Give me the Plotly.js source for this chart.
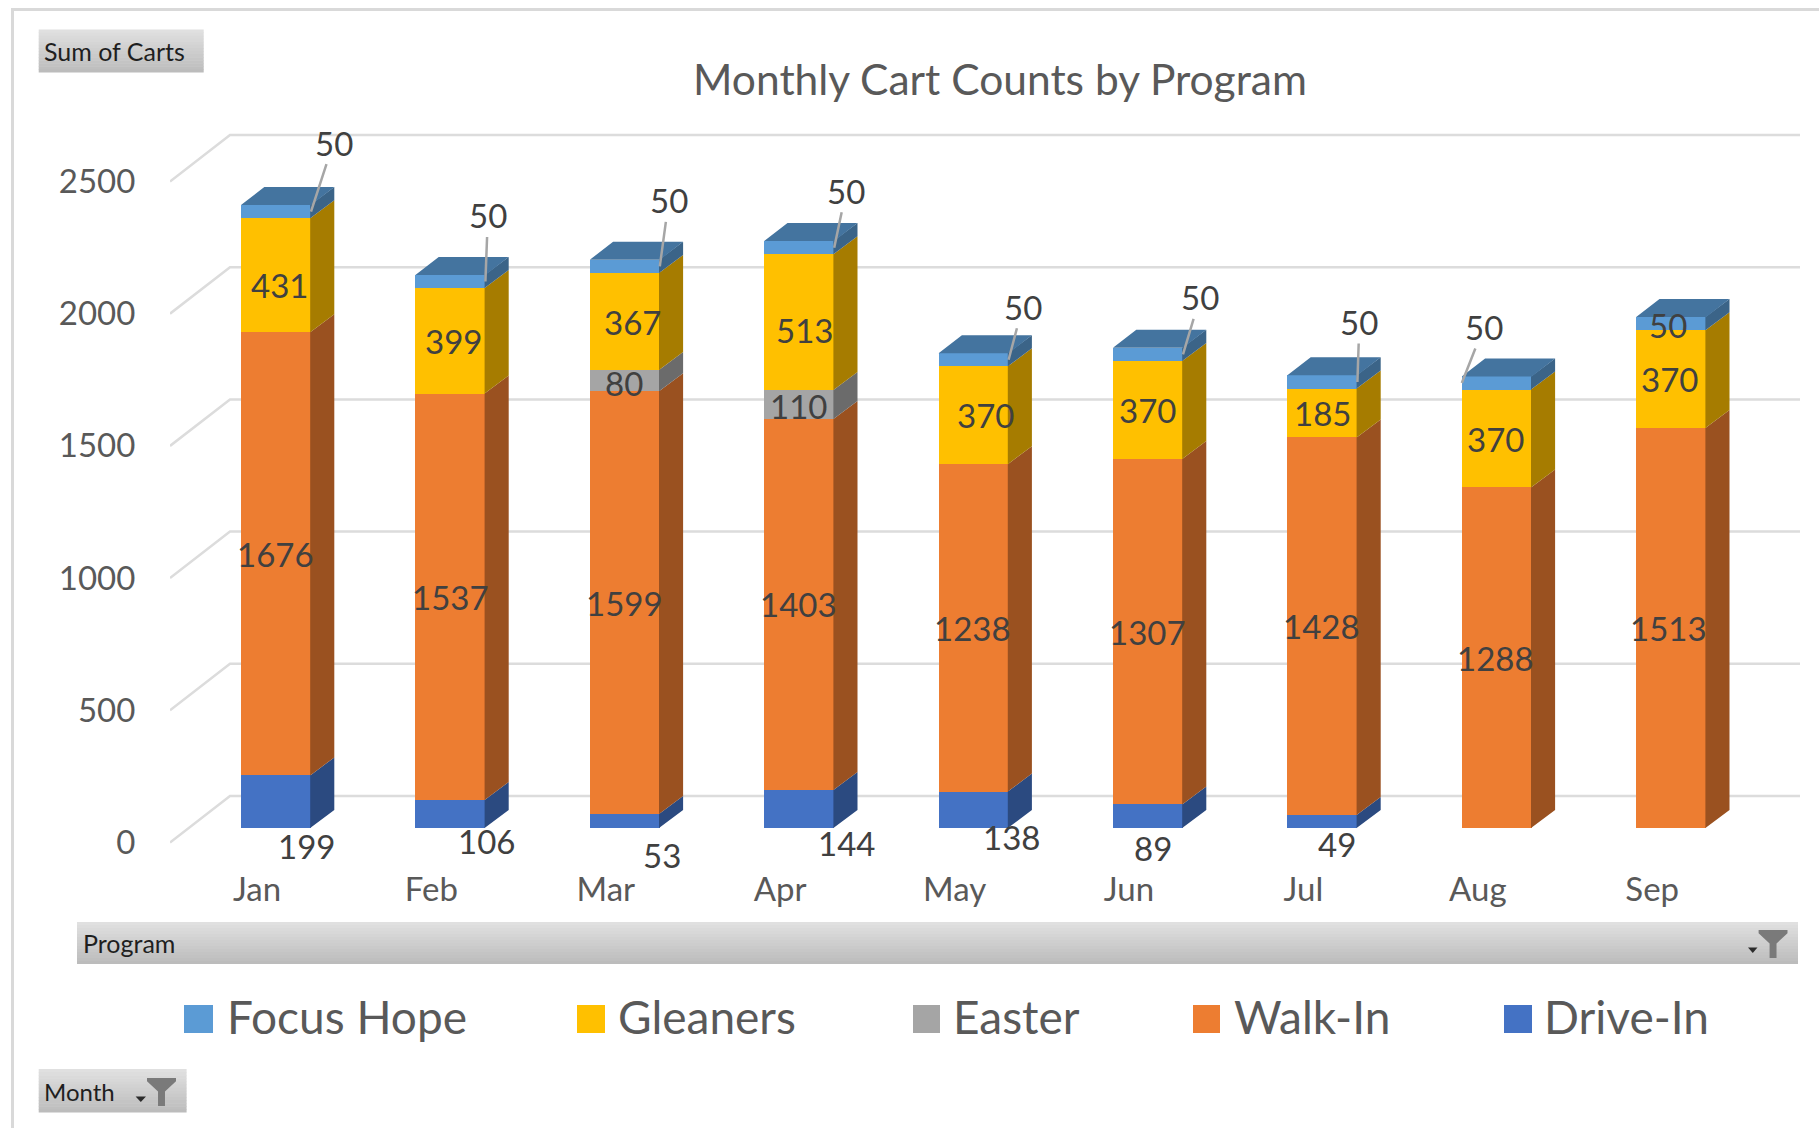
<!DOCTYPE html>
<html><head><meta charset="utf-8">
<script src="https://cdn.plot.ly/plotly-3.0.1.min.js"></script>
<style>html,body{margin:0;padding:0;background:#fff}#c{width:1819px;height:1128px}</style>
</head><body><div id="c"></div>
<script>
// ---- data ----
const months = ["Jan","Feb","Mar","Apr","May","Jun","Jul","Aug","Sep"];
const driveIn = [199,106,53,144,138,89,49,0,0];
const walkIn = [1676,1537,1599,1403,1238,1307,1428,1288,1513];
const easter = [0,0,80,110,0,0,0,0,0];
const gleaners = [431,399,367,513,370,370,185,370,370];
const focusHope = [50,50,50,50,50,50,50,50,50];
const yTicks = [0,500,1000,1500,2000,2500];

// ---- styles & layout constants ----
const W=1819,H=1128, L=170,R=1800,T=110,B=854;
const pxPerCat=174.4, pxPerVal=0.2644;
const barX0=276, barY0=828, labelX0=257, tickY0=842.5, barW=70;
const sideDX=23.3, sideDY=18, wallDX=60, wallDY=46.5, seam=0.8;
const FONT='Lato, "Open Sans", sans-serif';
const series=[
 {name:"Drive-In",v:driveIn,c:"#4472c4",s:"#2b4a80"},
 {name:"Walk-In",v:walkIn,c:"#ed7d31",s:"#9a5120"},
 {name:"Easter",v:easter,c:"#a5a5a5",s:"#6b6b6b"},
 {name:"Gleaners",v:gleaners,c:"#ffc000",s:"#a67c00"},
 {name:"Focus Hope",v:focusHope,c:"#5b9bd5",s:"#3b6488"}
];
const topColor="#44749f", gridColor="#dcdcdc", frameColor="#d9d9d9";
const idx=months.map((_,i)=>i);
const hw=barW/pxPerCat/2, dx=sideDX/pxPerCat, dy=sideDY/pxPerVal, sm=seam/pxPerCat;

const traces=[];
// walls: back gridlines & diagonals, on the labelled axes
const wx=[],wy=[];
const xOf=p=>(p-labelX0)/pxPerCat;
yTicks.forEach(v=>{const b=v+wallDY/pxPerVal;wx.push(xOf(L),xOf(L+wallDX),xOf(R),null);wy.push(v,b,b,null);});
traces.push({type:"scatter",mode:"lines",x:wx,y:wy,xaxis:"x",yaxis:"y",line:{color:gridColor,width:2.5},hoverinfo:"skip",showlegend:false});
// front faces
series.forEach(s=>traces.push({type:"bar",name:s.name,x:idx,y:s.v,width:barW/pxPerCat,xaxis:"x2",yaxis:"y2",marker:{color:s.c,line:{width:0}},showlegend:false}));
// side faces
const base=idx.map(()=>0);
series.forEach(s=>{
 const x=[],y=[];
 s.v.forEach((v,i)=>{ if(!v)return; const a=base[i],b=a+v,r=i+hw;
   x.push(r-sm,r+dx,r+dx,r-sm,r-sm,null); y.push(a,a+dy,b+dy,b,a,null); base[i]=b;});
 traces.push({type:"scatter",mode:"lines",x,y,xaxis:"x2",yaxis:"y2",fill:"toself",fillcolor:s.s,line:{width:0},hoverinfo:"skip",showlegend:false});
});
// top faces
{const x=[],y=[];
 base.forEach((t,i)=>{x.push(i-hw,i+hw,i+hw+dx,i-hw+dx,i-hw,null);y.push(t,t,t+dy,t+dy,t,null);});
 traces.push({type:"scatter",mode:"lines",x,y,xaxis:"x2",yaxis:"y2",fill:"toself",fillcolor:topColor,line:{width:0},hoverinfo:"skip",showlegend:false});}

const px=x=>(x-L)/(R-L), py=y=>(B-y)/(B-T);
const shapes=[],ann=[];
const txt=(text,x,y,size,color,anchor)=>ann.push({xref:"paper",yref:"paper",x:px(x),y:py(y),text,showarrow:false,xanchor:anchor||"left",yanchor:"middle",font:{family:FONT,size,color}});
// frame
shapes.push({type:"line",xref:"paper",yref:"paper",x0:px(11),x1:px(W),y0:py(9.5),y1:py(9.5),line:{color:frameColor,width:3}});
shapes.push({type:"line",xref:"paper",yref:"paper",x0:px(12.5),x1:px(12.5),y0:py(9),y1:py(H),line:{color:frameColor,width:3}});
// gradient buttons
function grad(x0,x1,y0,y1){const n=14;for(let i=0;i<n;i++){const f=i/(n-1),g=Math.round(224-f*36);
 shapes.push({type:"rect",xref:"paper",yref:"paper",x0:px(x0),x1:px(x1),y0:py(y0+(y1-y0)*i/n),y1:py(Math.min(y1,y0+(y1-y0)*(i+1)/n+0.5)),line:{width:0},fillcolor:`rgb(${g},${g},${g})`,layer:"below"});}}
function funnel(x0,x1,y0,y1,ax0,ax1,ay0,ay1){const w=x1-x0,h=y1-y0,c=(x0+x1)/2,hs=w*0.12,m=y0+h*0.48;
 const P=(x,y)=>px(x)+" "+py(y);
 shapes.push({type:"path",xref:"paper",yref:"paper",path:`M ${P(x0,y0)} L ${P(x1,y0)} L ${P(x1,y0+h*0.12)} L ${P(c+hs,m)} L ${P(c+hs,y1)} L ${P(c-hs,y1)} L ${P(c-hs,m)} L ${P(x0,y0+h*0.12)} Z`,fillcolor:"#7a7a7a",line:{width:0}});
 shapes.push({type:"path",xref:"paper",yref:"paper",path:`M ${px(ax0)} ${py(ay0)} L ${px(ax1)} ${py(ay0)} L ${px((ax0+ax1)/2)} ${py(ay1)} Z`,fillcolor:"#2b2b2b",line:{width:0}});}
grad(38.7,203.7,29.5,72.5); txt("Sum of Carts",42,51,25,"#1f1f1f");
grad(77,1798,922,964); txt("Program",81,943,25,"#1f1f1f"); funnel(1758.6,1787.5,930,958,1748,1757.5,947.5,953);
grad(38.7,186.6,1069,1112.5); txt("Month",42,1091,24,"#1f1f1f"); funnel(147,176,1078,1106,135.6,146,1096.5,1102);
// legend
const legendItems=[["Focus Hope",184,213,224.5,"#5b9bd5"],["Gleaners",577,605,616,"#ffc000"],["Easter",913,940,951,"#a5a5a5"],["Walk-In",1193,1220,1232,"#ed7d31"],["Drive-In",1504,1532,1542,"#4472c4"]];
legendItems.forEach(([n,a,b,t,c])=>{shapes.push({type:"rect",xref:"paper",yref:"paper",x0:px(a),x1:px(b),y0:py(1005),y1:py(1033),fillcolor:c,line:{width:0}});txt(n,t,1017,46,"#595959");});

// data labels; shifts are screen px from each segment's centre
const labelFont={family:FONT,size:33,color:"#404040"};
const driveShift=[[30,44],[36,27],[37,34],[47,34],[38,27],[5,32],[15,22],null,null];
const walkShift=[[-1,0],[0,0],[0,0],[-1,0],[-1,0],[-1,0],[-1,0],[-1,0],[-3,0]];
const gleanShift=[[3,10],[3,0],[8,0],[5,8],[12,0],[-1,0],[0,0],[-1,0],[-2,0]];
const easterShift=[null,null,[-1,2],[-1,2],null,null,null,null,null];
const focusArrow=[[22.5,-69],[2.5,-66],[9,-66],[12,-57],[14,-53],[17,-57],[2,-60],[22,-56],null];
const cum=idx.map(()=>0);
series.forEach(s=>{
 s.v.forEach((v,i)=>{ if(!v)return; const mid=cum[i]+v/2; cum[i]+=v;
  const a={xref:"x2",yref:"y2",x:i,y:mid,text:String(v),showarrow:false,font:labelFont,xanchor:"center",yanchor:"middle"};
  let sh=[0,0];
  if(s.name==="Drive-In")sh=driveShift[i];
  if(s.name==="Walk-In")sh=walkShift[i];
  if(s.name==="Gleaners")sh=gleanShift[i];
  if(s.name==="Easter")sh=easterShift[i];
  if(s.name==="Focus Hope"){
    const ar=focusArrow[i];
    if(ar){ a.x=i===7?i-hw:i+hw; a.showarrow=true;a.arrowhead=0;a.arrowwidth=2.5;a.arrowcolor="#a6a6a6";a.ax=ar[0];a.ay=ar[1];a.standoff=0;delete a.xanchor;delete a.yanchor;}
    else sh=[-3,1];
  }
  a.xshift=sh[0];a.yshift=-sh[1];
  ann.push(a);
 });
});

const tickFont={family:FONT,size:33,color:"#595959"};
const layout={
 width:W,height:H,paper_bgcolor:"#fff",plot_bgcolor:"rgba(0,0,0,0)",showlegend:false,
 margin:{l:L,r:W-R,t:T,b:H-B,pad:0},barmode:"stack",
 title:{text:"Monthly Cart Counts by Program",x:1000/W,xref:"container",y:1-80/H,yref:"container",xanchor:"center",yanchor:"middle",font:{family:FONT,size:42.5,color:"#595959"}},
 xaxis:{range:[(L-labelX0)/pxPerCat,(R-labelX0)/pxPerCat],tickmode:"array",tickvals:idx,ticktext:months,tickfont:tickFont,showgrid:false,zeroline:false,showline:false,ticks:"outside",ticklen:6,tickcolor:"rgba(0,0,0,0)",fixedrange:true},
 yaxis:{range:[(tickY0-B)/pxPerVal,(tickY0-T)/pxPerVal],tickmode:"array",tickvals:yTicks,tickfont:tickFont,showgrid:false,zeroline:false,showline:false,ticks:"outside",ticklen:27,tickcolor:"rgba(0,0,0,0)",fixedrange:true},
 xaxis2:{overlaying:"x",range:[(L-barX0)/pxPerCat,(R-barX0)/pxPerCat],visible:false,fixedrange:true},
 yaxis2:{overlaying:"y",range:[(barY0-B)/pxPerVal,(barY0-T)/pxPerVal],visible:false,fixedrange:true},
 shapes,annotations:ann
};
Plotly.newPlot("c",traces,layout,{displayModeBar:false,responsive:false});
</script></body></html>
